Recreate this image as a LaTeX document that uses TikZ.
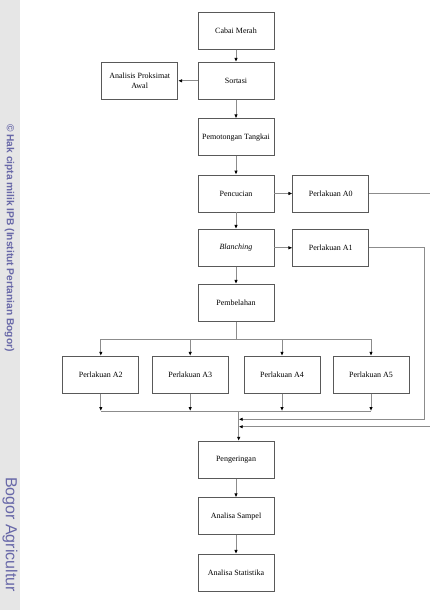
\documentclass[tikz,border=0pt]{standalone}
\usepackage{fontspec}
\setmainfont{Liberation Serif}
\newfontfamily\wmfont{Liberation Sans}
\usetikzlibrary{arrows.meta}
\definecolor{wmblue}{RGB}{104,104,168}
\definecolor{wmgray}{RGB}{230,230,230}

\begin{document}
\begin{tikzpicture}[x=1pt,y=-1pt,font=\fontsize{8}{9.5}\selectfont,
box/.style={draw=black!65, line width=0.7pt, minimum width=76pt,
    minimum height=37pt, align=center, inner sep=1pt},
flow/.style={draw=black!45, line width=0.8pt, -{Latex[length=4pt,width=3.5pt,black]}},
link/.style={draw=black!45, line width=0.8pt}]
\useasboundingbox (0,0) rectangle (429,610);
\fill[wmgray] (0,0) rectangle (20,610);
\node[wmblue, rotate=-90, anchor=west, inner sep=0pt,
  font=\wmfont\bfseries\fontsize{10.2}{12}\selectfont] (hak) at (9.5,124)
  {© Hak cipta milik IPB (Institut Pertanian Bogor)};
\node[wmblue, rotate=-90, anchor=west, inner sep=0pt,
  font=\wmfont\fontsize{16}{18}\selectfont] (bogor) at (10,477) {Bogor Agricultur};

\node[box] (cabai) at (236,30.7) {Cabai Merah};
\node[box] (sortasi) at (236,80.8) {Sortasi};
\node[box] (analisis) at (139.7,80.8) {Analisis Proksimat\\Awal};
\node[box] (potong) at (236,137.2) {Pemotongan Tangkai};
\node[box] (cuci) at (236,193.5) {Pencucian};
\node[box] (a0) at (330.8,193.5) {Perlakuan A0};
\node[box] (blanch) at (236,247.8) {\textit{Blanching}};
\node[box] (a1) at (330.8,247.8) {Perlakuan A1};
\node[box] (belah) at (236,302.8) {Pembelahan};
\node[box] (a2) at (100.8,374.7) {Perlakuan A2};
\node[box] (a3) at (190.2,374.7) {Perlakuan A3};
\node[box] (a4) at (282,374.7) {Perlakuan A4};
\node[box] (a5) at (371,374.7) {Perlakuan A5};
\node[box] (kering) at (236,459.7) {Pengeringan};
\node[box] (sampel) at (236,516.2) {Analisa Sampel};
\node[box] (stat) at (236,572.8) {Analisa Statistika};

\draw[flow] (cabai) -- (sortasi);
\draw[flow] (sortasi) -- (analisis);
\draw[flow] (sortasi) -- (potong);
\draw[flow] (potong) -- (cuci);
\draw[flow] (cuci) -- (a0);
\draw[flow] (cuci) -- (blanch);
\draw[flow] (blanch) -- (a1);
\draw[flow] (blanch) -- (belah);

\coordinate (split) at (236,339.3);
\coordinate (join) at (238.7,411);
\coordinate (back1) at (424.3,419.3);
\coordinate (back0) at (434,426.7);
\draw[link] (belah) -- (split);
\draw[link] (a2 |- split) -- (a5 |- split);
\foreach \n in {a2,a3,a4,a5} {
  \draw[flow] (split -| \n) -- (\n);
  \draw[flow] (\n) -- (\n |- join);
}
\draw[link] (a2 |- join) -- (a5 |- join);
\draw[flow] (a1) -- (a1 -| back1) -- (back1) -- (back1 -| join);
\draw[flow] (a0) -- (a0 -| back0) -- (back0) -- (back0 -| join);
\draw[flow] (join) -- (kering.north -| join);

\draw[flow] (kering) -- (sampel);
\draw[flow] (sampel) -- (stat);
\end{tikzpicture}
\end{document}
